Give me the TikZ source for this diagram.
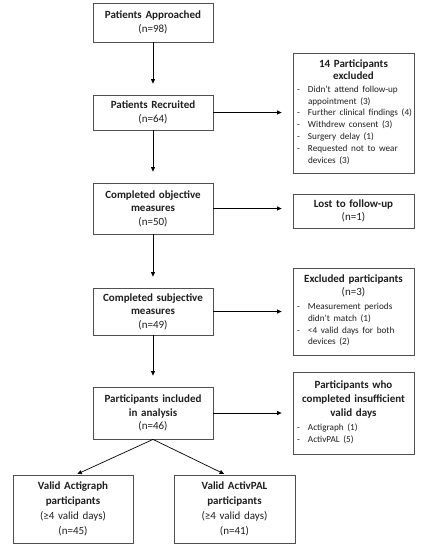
\documentclass[tikz,border=0pt]{standalone}
\usepackage{fontspec}
\setmainfont{Carlito}
\usetikzlibrary{arrows.meta}
\definecolor{boxgray}{HTML}{505050}
\definecolor{txt}{HTML}{1e1e1e}
\newcommand{\mylist}[1]{\makebox[\linewidth][l]{\fontsize{9.2}{11.8}\selectfont\begin{tabular}[t]{@{}p{11pt}@{}l@{}}#1\end{tabular}}}
\begin{document}
\begin{tikzpicture}[x=1pt,y=-1pt,
  box/.style={draw=boxgray, line width=0.8pt, rectangle, inner sep=0pt,
    minimum width=120pt, text width=112pt, align=center, text=txt,
    font=\fontsize{11}{13.5}\selectfont},
  sidebox/.style={box, minimum width=121pt, text width=113pt},
  arr/.style={-{Triangle[length=4.5pt,width=4pt]}, line width=0.7pt, shorten >=11pt},
  darr/.style={-{Triangle[length=4.5pt,width=4pt]}, line width=0.7pt, shorten >=1.5pt}]
\useasboundingbox (0,0) rectangle (433,550);

% main column
\node[box, minimum height=39pt] (b1) at (153,22.5) {{\bfseries Patients Approached}\\(n=98)};
\node[box, minimum height=35pt] (b2) at (153,112.5) {{\bfseries Patients Recruited}\\(n=64)};
\node[box, minimum height=51pt] (b3) at (153,208.5) {{\bfseries Completed objective\\measures}\\(n=50)};
\node[box, minimum height=47pt] (b4) at (153,311.5) {{\bfseries Completed subjective\\measures}\\(n=49)};
\node[box, minimum height=52pt] (b5) at (153,413) {{\bfseries Participants included\\in analysis}\\(n=46)};

% side column
\node[sidebox, minimum height=120pt, font=\fontsize{11}{12.5}\selectfont] (e1) at (353.5,113) {{\bfseries 14 Participants\\excluded}\\
 \mylist{- & Didn't attend follow-up\\
  & appointment (3)\\
 - & Further clinical findings (4)\\
 - & Withdrew consent (3)\\
 - & Surgery delay (1)\\
 - & Requested not to wear\\
  & devices (3)}};
\node[sidebox, minimum height=34pt] (e2) at (353.5,211) {{\bfseries Lost to follow-up}\\(n=1)};
\node[sidebox, minimum height=87pt, font=\fontsize{11}{13.5}\selectfont] (e3) at (353.5,311.5) {{\bfseries Excluded participants}\\(n=3)\\
 \mylist{- & Measurement periods\\
  & didn't match (1)\\
 - & <4 valid days for both\\
  & devices (2)}};
\node[sidebox, minimum height=82pt, font=\fontsize{11}{14}\selectfont] (e4) at (353.5,413) {{\bfseries Participants who\\completed insufficient\\valid days}\\
 \mylist{- & Actigraph (1)\\
 - & ActivPAL (5)}};

% bottom
\node[box, minimum height=68pt, font=\fontsize{11}{14.8}\selectfont] (v1) at (73,509) {{\bfseries Valid Actigraph\\participants}\\(≥4 valid days)\\(n=45)};
\node[box, minimum width=121pt, minimum height=68pt, font=\fontsize{11}{14.8}\selectfont] (v2) at (234.5,509) {{\bfseries Valid ActivPAL\\participants}\\(≥4 valid days)\\(n=41)};

% connectors
\draw[arr] (b1) -- (b2);
\draw[arr] (b2) -- (b3);
\draw[arr] (b3) -- (b4);
\draw[arr] (b4) -- (b5);
\draw[arr] (b2.east) -- (b2.east -| e1.west);
\draw[arr] (b3.east) -- (b3.east -| e2.west);
\draw[arr] (b4.east) -- (b4.east -| e3.west);
\draw[arr] (b5.east) -- (b5.east -| e4.west);
\draw[darr] (b5.south) -- ([xshift=3pt]v1.north);
\draw[darr] (b5.south) -- ([xshift=-9pt]v2.north);
\end{tikzpicture}
\end{document}
